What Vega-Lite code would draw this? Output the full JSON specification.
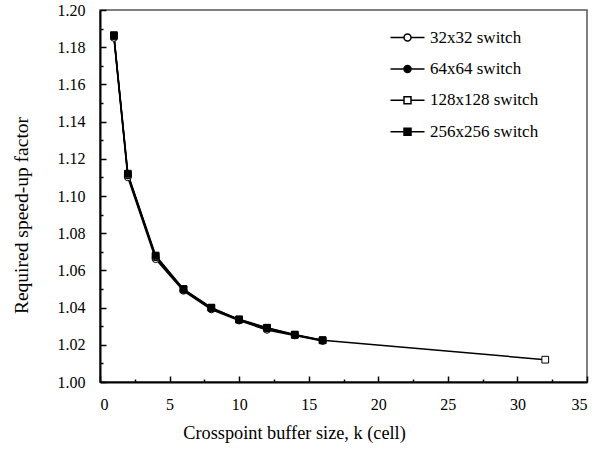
{
  "$schema": "https://vega.github.io/schema/vega-lite/v6.json",
  "autosize": "none",
  "width": 487,
  "height": 372,
  "padding": {"left": 100, "top": 10, "right": 19, "bottom": 74},
  "background": "white",
  "config": {
    "font": "Liberation Serif",
    "view": {"stroke": "#555555", "strokeWidth": 1.5},
    "axis": {"grid": false, "labelFont": "Liberation Serif", "titleFont": "Liberation Serif", "labelColor": "black", "titleColor": "black", "labelFontSize": 16, "titleFontSize": 19.5, "titleFontWeight": "normal", "domainColor": "black", "tickColor": "black"},
    "legend": {"labelFont": "Liberation Serif", "labelFontSize": 17, "labelColor": "black"}
  },
  "data": {"values": [
    {"k": 1, "v": 1.185, "s": "32x32 switch"},
    {"k": 2, "v": 1.110, "s": "32x32 switch"},
    {"k": 4, "v": 1.066, "s": "32x32 switch"},
    {"k": 6, "v": 1.049, "s": "32x32 switch"},
    {"k": 8, "v": 1.039, "s": "32x32 switch"},
    {"k": 10, "v": 1.033, "s": "32x32 switch"},
    {"k": 12, "v": 1.028, "s": "32x32 switch"},
    {"k": 14, "v": 1.025, "s": "32x32 switch"},
    {"k": 16, "v": 1.022, "s": "32x32 switch"},
    {"k": 1, "v": 1.186, "s": "64x64 switch"},
    {"k": 2, "v": 1.111, "s": "64x64 switch"},
    {"k": 4, "v": 1.067, "s": "64x64 switch"},
    {"k": 6, "v": 1.0495, "s": "64x64 switch"},
    {"k": 8, "v": 1.0395, "s": "64x64 switch"},
    {"k": 10, "v": 1.0333, "s": "64x64 switch"},
    {"k": 12, "v": 1.0287, "s": "64x64 switch"},
    {"k": 14, "v": 1.0252, "s": "64x64 switch"},
    {"k": 16, "v": 1.0223, "s": "64x64 switch"},
    {"k": 1, "v": 1.186, "s": "128x128 switch"},
    {"k": 2, "v": 1.1115, "s": "128x128 switch"},
    {"k": 4, "v": 1.0675, "s": "128x128 switch"},
    {"k": 6, "v": 1.0498, "s": "128x128 switch"},
    {"k": 8, "v": 1.0398, "s": "128x128 switch"},
    {"k": 10, "v": 1.0335, "s": "128x128 switch"},
    {"k": 12, "v": 1.029, "s": "128x128 switch"},
    {"k": 14, "v": 1.0253, "s": "128x128 switch"},
    {"k": 16, "v": 1.0224, "s": "128x128 switch"},
    {"k": 32, "v": 1.012, "s": "128x128 switch"},
    {"k": 1, "v": 1.1865, "s": "256x256 switch"},
    {"k": 2, "v": 1.112, "s": "256x256 switch"},
    {"k": 4, "v": 1.068, "s": "256x256 switch"},
    {"k": 6, "v": 1.050, "s": "256x256 switch"},
    {"k": 8, "v": 1.040, "s": "256x256 switch"},
    {"k": 10, "v": 1.0337, "s": "256x256 switch"},
    {"k": 12, "v": 1.0292, "s": "256x256 switch"},
    {"k": 14, "v": 1.0255, "s": "256x256 switch"},
    {"k": 16, "v": 1.0225, "s": "256x256 switch"}
  ]},
  "resolve": {"axis": {"x": "independent", "y": "independent"}, "scale": {"shape": "independent", "fill": "independent"}},
  "layer": [
    {
      "mark": {"type": "line", "color": "black", "strokeWidth": 1.5},
      "encoding": {
        "x": {"field": "k", "type": "quantitative", "scale": {"domain": [0, 35], "nice": false},
          "axis": {"orient": "bottom", "title": "Crosspoint buffer size, k (cell)", "titleFontSize": 18.3, "titleX": 194, "values": [0, 5, 10, 15, 20, 25, 30, 35], "tickSize": -6, "tickWidth": 1.5, "domainWidth": 2, "labelPadding": 20, "titlePadding": 12}},
        "y": {"field": "v", "type": "quantitative", "scale": {"domain": [1.0, 1.2], "nice": false, "zero": false},
          "axis": {"orient": "left", "title": "Required speed-up factor", "titleY": 205, "values": [1.0, 1.02, 1.04, 1.06, 1.08, 1.1, 1.12, 1.14, 1.16, 1.18, 1.2], "format": ".2f", "tickSize": -6, "tickWidth": 1.5, "domainWidth": 2, "labelPadding": 21, "titlePadding": 26}},
        "detail": {"field": "s"}
      }
    },
    {
      "mark": {"type": "point", "filled": true, "stroke": "black", "strokeWidth": 1, "size": 45, "opacity": 1},
      "encoding": {
        "x": {"field": "k", "type": "quantitative", "axis": null},
        "y": {"field": "v", "type": "quantitative", "axis": null},
        "shape": {"field": "s", "type": "nominal", "sort": null, "legend": null,
          "scale": {"domain": ["32x32 switch", "64x64 switch", "128x128 switch", "256x256 switch"], "range": ["circle", "circle", "square", "square"]}},
        "fill": {"field": "s", "type": "nominal", "sort": null, "legend": null,
          "scale": {"domain": ["32x32 switch", "64x64 switch", "128x128 switch", "256x256 switch"], "range": ["white", "black", "white", "black"]}}
      }
    },
    {
      "transform": [{"filter": "datum.k > 1000"}],
      "mark": {"type": "point", "filled": true, "stroke": "black", "strokeWidth": 1.3, "opacity": 1},
      "encoding": {
        "x": {"field": "k", "type": "quantitative", "axis": null},
        "y": {"field": "v", "type": "quantitative", "axis": null},
        "shape": {"field": "s", "type": "nominal", "sort": null,
          "scale": {"domain": ["32x32 switch", "64x64 switch", "128x128 switch", "256x256 switch"],
            "range": [
              "M-3.4,0L-0.7,0M0.7,0L3.4,0M0.7,0A0.7,0.7,0,1,1,-0.7,0A0.7,0.7,0,1,1,0.7,0Z",
              "M-3.4,0L-0.7,0M0.7,0L3.4,0M0.7,0A0.7,0.7,0,1,1,-0.7,0A0.7,0.7,0,1,1,0.7,0Z",
              "M-3.4,0L-0.7,0M0.7,0L3.4,0M-0.7,-0.7L0.7,-0.7L0.7,0.7L-0.7,0.7Z",
              "M-3.4,0L-0.7,0M0.7,0L3.4,0M-0.7,-0.7L0.7,-0.7L0.7,0.7L-0.7,0.7Z"
            ]},
          "legend": {"title": null, "orient": "none", "legendX": 299, "legendY": 19, "padding": 0, "rowPadding": 13.4, "labelOffset": 14, "symbolSize": 100,
            "encode": {"symbols": {"update": {"stroke": {"value": "black"}, "strokeWidth": {"value": 1.3}, "opacity": {"value": 1}}}}}},
        "fill": {"field": "s", "type": "nominal", "sort": null,
          "scale": {"domain": ["32x32 switch", "64x64 switch", "128x128 switch", "256x256 switch"], "range": ["white", "black", "white", "black"]},
          "legend": {"title": null, "orient": "none", "legendX": 299, "legendY": 19, "padding": 0, "rowPadding": 13.4, "labelOffset": 14, "symbolSize": 100,
            "encode": {"symbols": {"update": {"stroke": {"value": "black"}, "strokeWidth": {"value": 1.3}, "opacity": {"value": 1}}}}}}
      }
    },
    {
      "mark": {"type": "point", "opacity": 0},
      "encoding": {
        "x": {"field": "k", "type": "quantitative",
          "axis": {"orient": "bottom", "title": null, "labels": false, "domain": false, "values": [2.5, 7.5, 12.5, 17.5, 22.5, 27.5, 32.5], "tickSize": -3, "tickWidth": 1.5}},
        "y": {"field": "v", "type": "quantitative",
          "axis": {"orient": "left", "title": null, "labels": false, "domain": false, "values": [1.01, 1.03, 1.05, 1.07, 1.09, 1.11, 1.13, 1.15, 1.17, 1.19], "tickSize": -3, "tickWidth": 1.5}}
      }
    }
  ]
}
